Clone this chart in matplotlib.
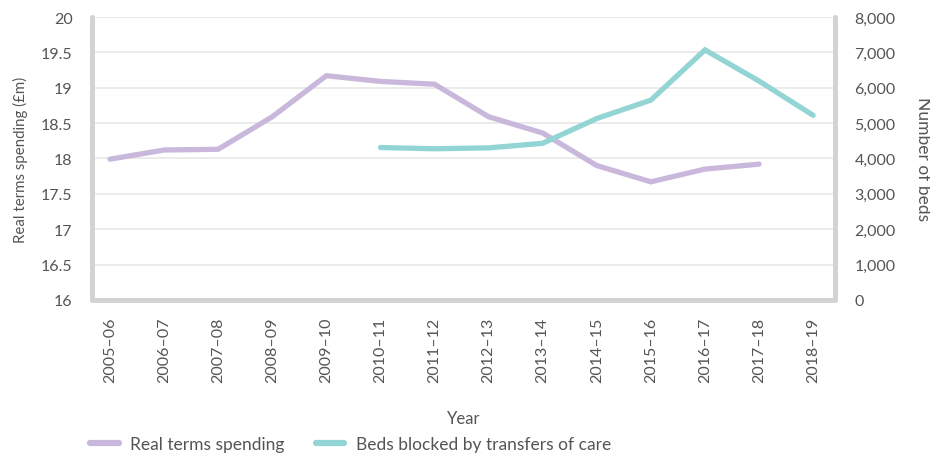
import matplotlib
matplotlib.use("Agg")
import matplotlib.pyplot as plt
import numpy as np

years = ["2005–06", "2006–07", "2007–08", "2008–09", "2009–10", "2010–11", "2011–12",
         "2012–13", "2013–14", "2014–15", "2015–16", "2016–17", "2017–18", "2018–19"]
spending = [17.99, 18.12, 18.13, 18.59, 19.17, 19.09, 19.05, 18.59, 18.36, 17.90, 17.67, 17.85, 17.92, None]
beds = [None, None, None, None, None, 4310, 4275, 4300, 4430, 5130, 5650, 7070, 6190, 5220]

plt.rcParams['font.family'] = ['Lato', 'DejaVu Sans']
txt = '#555555'
purple = '#c9b8dc'
teal = '#93d5d4'
spine_c = '#d3d3d3'

fig = plt.figure(figsize=(9.3, 4.56), dpi=100)
ax = fig.add_axes([0.0989, 0.340, 0.7991, 0.6205])
ax2 = ax.twinx()

x = np.arange(len(years))
sp = np.array([np.nan if v is None else v for v in spending], dtype=float)
bd = np.array([np.nan if v is None else v for v in beds], dtype=float)

l1, = ax.plot(x, sp, color=purple, lw=3.8, solid_capstyle='round', solid_joinstyle='miter', label='Real terms spending', zorder=3)
l2, = ax2.plot(x, bd, color=teal, lw=3.8, solid_capstyle='round', solid_joinstyle='miter', label='Beds blocked by transfers of care', zorder=3)

ax.set_xlim(-0.333, 13.407)
ax.set_ylim(16, 20)
ax2.set_ylim(0, 8000)
ax.set_yticks(np.arange(16, 20.01, 0.5))
ax.set_yticklabels(['16', '16.5', '17', '17.5', '18', '18.5', '19', '19.5', '20'])
ax2.set_yticks(np.arange(0, 8001, 1000))
ax2.set_yticklabels(['0'] + [f'{v:,}' for v in range(1000, 8001, 1000)])
ax.set_xticks(x)
ax.set_xticklabels(years, rotation=90)

ax.grid(axis='y', color='#e8e8e8', lw=1.2)
ax.set_axisbelow(True)

for a in (ax, ax2):
    a.spines['top'].set_visible(False)
    for s in ('left', 'right', 'bottom'):
        a.spines[s].set_color(spine_c)
        a.spines[s].set_linewidth(3.5)
        a.spines[s].set_capstyle('round')
    a.tick_params(length=0, colors=txt, labelsize=11.5)
ax.tick_params(axis='y', pad=14)
ax2.tick_params(axis='y', pad=14)
ax.tick_params(axis='x', pad=12)

ax.set_ylabel('Real terms spending (£m)', color=txt, fontsize=10.8, labelpad=9)
ax2.set_ylabel('Number of beds', color=txt, fontsize=12.5, rotation=-90, labelpad=25)
ax.set_xlabel('Year', color=txt, fontsize=12, labelpad=20)

leg = fig.legend(handles=[l1, l2], loc='center left', bbox_to_anchor=(0.097, 0.025),
                 ncol=2, frameon=False, fontsize=12.5, handlelength=1.65, columnspacing=1.8,
                 labelcolor=txt, handletextpad=0.65, borderpad=0, borderaxespad=0)
for h in leg.legend_handles:
    h.set_linewidth(4.5)

fig.savefig('out.png', dpi=100)
